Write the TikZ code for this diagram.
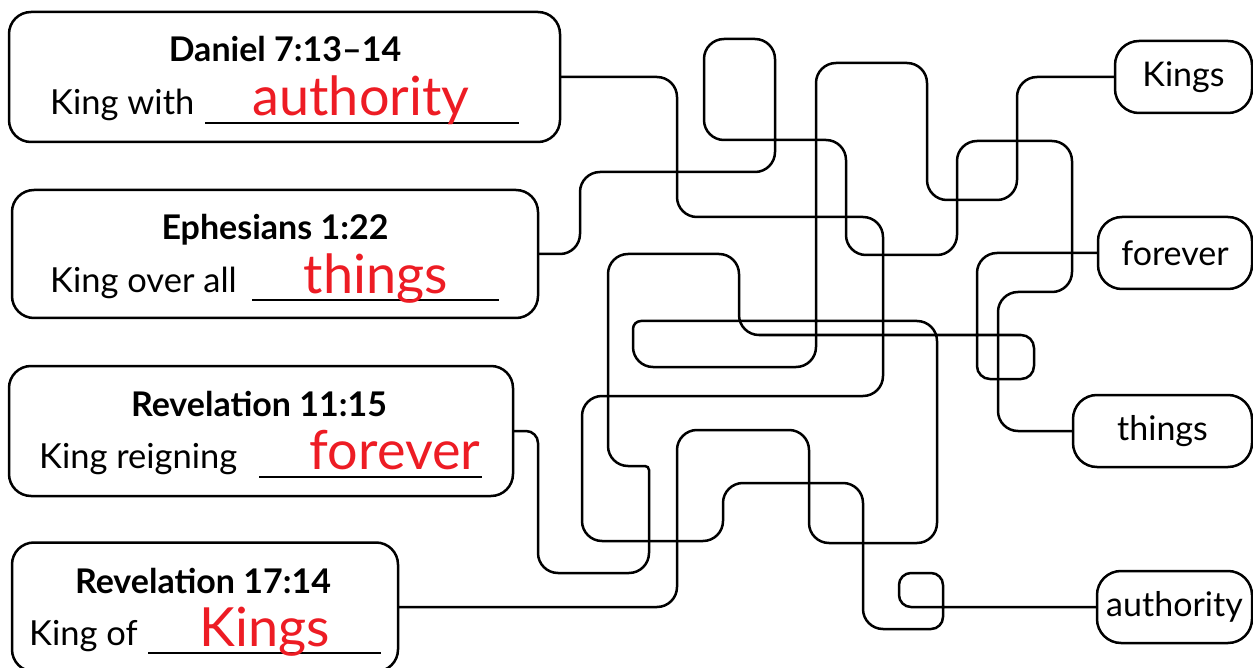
\documentclass[tikz,border=0pt]{standalone}
\usepackage{fontspec}
\setmainfont{Lato}
\definecolor{ansred}{RGB}{237,28,36}
\begin{document}
\begin{tikzpicture}[x=1pt,y=-1pt,
  lbox/.style={draw, line width=2.5pt, rounded corners=22pt, inner sep=0pt, outer sep=0pt},
  rbox/.style={draw, line width=2.5pt, rounded corners=24pt, inner sep=0pt, outer sep=0pt, font=\fontsize{34}{40}\selectfont},
  ttl/.style={anchor=base, inner sep=0pt, font=\bfseries\fontsize{34}{40}\selectfont},
  txt/.style={anchor=base west, inner sep=0pt, font=\fontsize{34.5}{40}\selectfont},
  ans/.style={anchor=base, inner sep=0pt, text=ansred, font=\fontsize{54}{60}\selectfont},
  uline/.style={line width=1.5pt},
  maze/.style={line width=2.5pt, rounded corners=20pt},
]
\useasboundingbox (0,0) rectangle (1253,668);

% left boxes
\node[lbox, minimum width=551pt, minimum height=130pt] (dan) at (284.5,77) {};
\node[lbox, minimum width=526pt, minimum height=128pt] (eph) at (275,254) {};
\node[lbox, minimum width=504pt, minimum height=130pt] (revA) at (261,431) {};
\node[lbox, minimum width=386pt, minimum height=129pt] (revB) at (205,607) {};

% right boxes
\node[rbox, minimum width=137pt, minimum height=72pt] (kings) at (1183.5,77) {Kings};
\node[rbox, minimum width=154pt, minimum height=72pt] (forever) at (1175,253) {forever};
\node[rbox, minimum width=179pt, minimum height=72pt] (things) at (1162.5,431) {things};
\node[rbox, minimum width=155pt, minimum height=72pt] (authority) at (1174.5,607) {authority};

% texts
\node[ttl] (t1) at (285,62) {Daniel 7:13–14};
\node[txt] (l1) at (50,115) {King with};
\draw[uline] (205,123) -- (519,123);
\node[ans] (a1) at (361,116) {authority};

\node[ttl] (t2) at (275,240) {Ephesians 1:22};
\node[txt] (l2) at (50,293) {King over all};
\draw[uline] (252,300) -- (499,300);
\node[ans] (a2) at (376,294) {things};

\node[ttl] (t3) at (259,416) {Revelation 11:15};
\node[txt] (l3) at (39,468) {King reigning};
\draw[uline] (259,477) -- (482,477);
\node[ans] (a3) at (395,469) {forever};

\node[ttl] (t4) at (203,593) {Revelation 17:14};
\node[txt] (l4) at (29,645) {King of};
\draw[uline] (148,653) -- (381,653);
\node[ans] (a4) at (265,646) {Kings};

% maze: Daniel -> authority
\draw[maze] (dan.east) -- (677,77) -- (677,217) -- (883,217) -- (883,396)
  -- (582,396) -- (582,541) -- (723,541) -- (723,483) -- (863,483)
  -- (863,629) [rounded corners=12pt] -- (943,629) -- (943,573) -- (899,573) -- (899,607) -- (authority.west);

% Ephesians -> things
\draw[maze] (eph.east) -- (580,254) -- (580,172) -- (775,172) -- (775,39)
  -- (704,39) -- (704,140) -- (846,140) -- (846,255) -- (957,255)
  -- (957,141) -- (1072,141) -- (1072,292) -- (998,292) -- (998,431) -- (things.west);

% Revelation 11:15 -> forever
\draw[maze] (revA.east) [rounded corners=12pt] -- (538,431) [rounded corners=20pt] -- (538,573) -- (649,573)
  [rounded corners=4pt] -- (649,466) [rounded corners=20pt] -- (608,466) -- (608,254) -- (739,254)
  -- (739,335) [rounded corners=13pt] -- (1034,335) -- (1034,379) -- (977,379) [rounded corners=20pt] -- (977,253) -- (forever.west);

% Revelation 17:14 -> Kings
\draw[maze] (revB.east) -- (677,607) -- (677,430) -- (809,430) -- (809,543)
  -- (937,543) -- (937,321) [rounded corners=8pt] -- (633,321) [rounded corners=20pt] -- (633,367) -- (816,367)
  -- (816,63) -- (927,63) -- (927,200) -- (1017,200) -- (1017,77) -- (kings.west);
\end{tikzpicture}
\end{document}
